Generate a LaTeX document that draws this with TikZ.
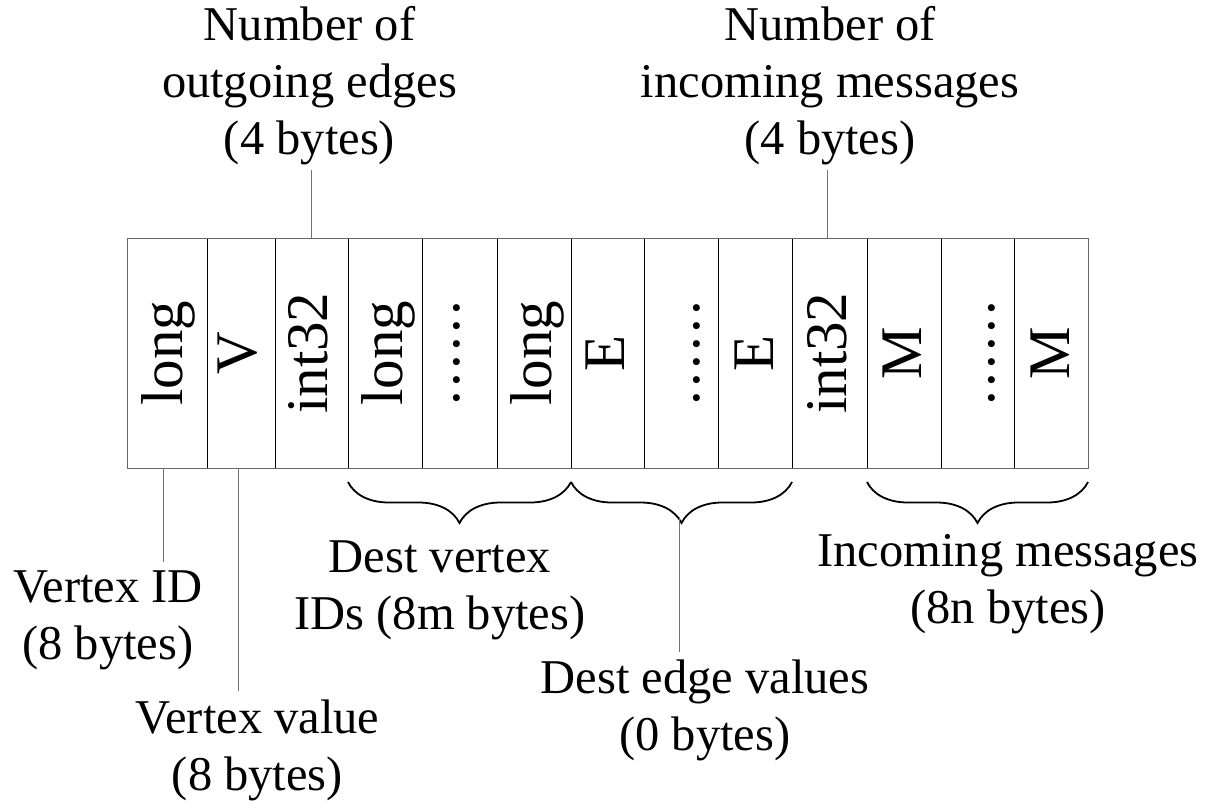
\documentclass[tikz,border=0pt]{standalone}
\usepackage{fontspec}
\setmainfont{Liberation Serif}
\usetikzlibrary{decorations.pathreplacing,calc}
% six spaced dots for the "repeated entries" cells
\newcommand\cellellipsis{.\kern3.2pt.\kern3.2pt.\kern3.2pt.\kern3.2pt.\kern3.2pt.}
\begin{document}
\begin{tikzpicture}[x=1pt,y=-1pt,
  cellbox/.style={draw=black, line width=0.9pt, minimum height=230.5pt,
    inner sep=0pt, outer sep=0pt},
  celltext/.style={rotate=90, anchor=base, inner sep=0pt,
    font=\fontsize{59}{59}\selectfont},
  lbl/.style={align=center, inner sep=0pt, anchor=north,
    font=\fontsize{48.5}{57}\selectfont},
  leader/.style={draw=black!55, line width=0.9pt},
  bracedown/.style={decorate, decoration={brace, mirror, amplitude=41pt},
    line width=1.8pt}
]
\useasboundingbox (0,0) rectangle (1208,803);

% record cells
\node[cellbox, minimum width=80pt] (c1)  at (167,353.25)   {};
\node[cellbox, minimum width=68pt] (c2)  at (241,353.25)   {};
\node[cellbox, minimum width=73pt] (c3)  at (311.5,353.25) {};
\node[cellbox, minimum width=74pt] (c4)  at (385,353.25)   {};
\node[cellbox, minimum width=75pt] (c5)  at (459.5,353.25) {};
\node[cellbox, minimum width=74pt] (c6)  at (534,353.25)   {};
\node[cellbox, minimum width=73pt] (c7)  at (607.5,353.25) {};
\node[cellbox, minimum width=74pt] (c8)  at (681,353.25)   {};
\node[cellbox, minimum width=74pt] (c9)  at (755,353.25)   {};
\node[cellbox, minimum width=75pt] (c10) at (829.5,353.25) {};
\node[cellbox, minimum width=74pt] (c11) at (904,353.25)   {};
\node[cellbox, minimum width=73pt] (c12) at (977.5,353.25) {};
\node[cellbox, minimum width=74pt] (c13) at (1051,353.25)  {};
\draw[draw=black!60, line width=1pt] (c1.north west) rectangle (c13.south east);

% field types, written upwards
\node[celltext] (t1)  at ([xshift=15pt]c1.center)  {long};
\node[celltext] (t2)  at ([xshift=15pt]c2.center)  {V};
\node[celltext] (t3)  at ([xshift=16pt]c3.center)  {int32};
\node[celltext] (t4)  at ([xshift=17pt]c4.center)  {long};
\node[celltext] (t5)  at ([xshift=0pt]c5.center)   {\cellellipsis};
\node[celltext] (t6)  at ([xshift=17pt]c6.center)  {long};
\node[celltext] (t7)  at ([xshift=17pt]c7.center)  {E};
\node[celltext] (t8)  at ([xshift=18pt]c8.center)  {\cellellipsis};
\node[celltext] (t9)  at ([xshift=18pt]c9.center)  {E};
\node[celltext] (t10) at ([xshift=17pt]c10.center) {int32};
\node[celltext] (t11) at ([xshift=17pt]c11.center) {M};
\node[celltext] (t12) at ([xshift=16.5pt]c12.center) {\cellellipsis};
\node[celltext] (t13) at ([xshift=18pt]c13.center) {M};

% descriptions
\node[lbl] (nout) at (309.5,6)  {Number of\\outgoing edges\\(4 bytes)};
\node[lbl] (ninc) at (830,6)    {Number of\\incoming messages\\(4 bytes)};
\node[lbl] (vid)  at (108,571)  {Vertex ID\\(8 bytes)};
\node[lbl] (vval) at (257.5,700) {Vertex value\\(8 bytes)};
\node[lbl] (dvid) at (440,541)  {Dest vertex\\IDs (8m bytes)};
\node[lbl] (dev)  at (705,660)  {Dest edge values\\(0 bytes)};
\node[lbl] (imsg) at (1008,534) {Incoming messages\\(8n bytes)};

% braces under groups of cells
\draw[bracedown] ([yshift=-13.5pt]c4.south west)  -- ([yshift=-13.5pt]c6.south east);
\draw[bracedown] ([yshift=-13.5pt]c7.south west)  -- ([yshift=-13.5pt]c9.south east);
\draw[bracedown] ([yshift=-13.5pt]c11.south west) -- ([yshift=-13.5pt]c13.south east);
\coordinate (b2tip) at ($(c7.south west)!0.5!(c9.south east)+(-2,48.5)$);

% leader lines
\draw[leader, shorten >=5pt] (c3.north) -- (c3.north |- nout.south);
\draw[leader, shorten >=5pt] ([xshift=-2pt]c10.north) -- ([xshift=-2pt]c10.north |- ninc.south);
\draw[leader, shorten >=9pt] ([xshift=-4pt]c1.south) -- ([xshift=-4pt]c1.south |- vid.north);
\draw[leader, shorten >=9pt] ([xshift=-3pt]c2.south) -- ([xshift=-3pt]c2.south |- vval.north);
\draw[leader, shorten >=8pt] (b2tip) -- (b2tip |- dev.north);
\end{tikzpicture}
\end{document}
